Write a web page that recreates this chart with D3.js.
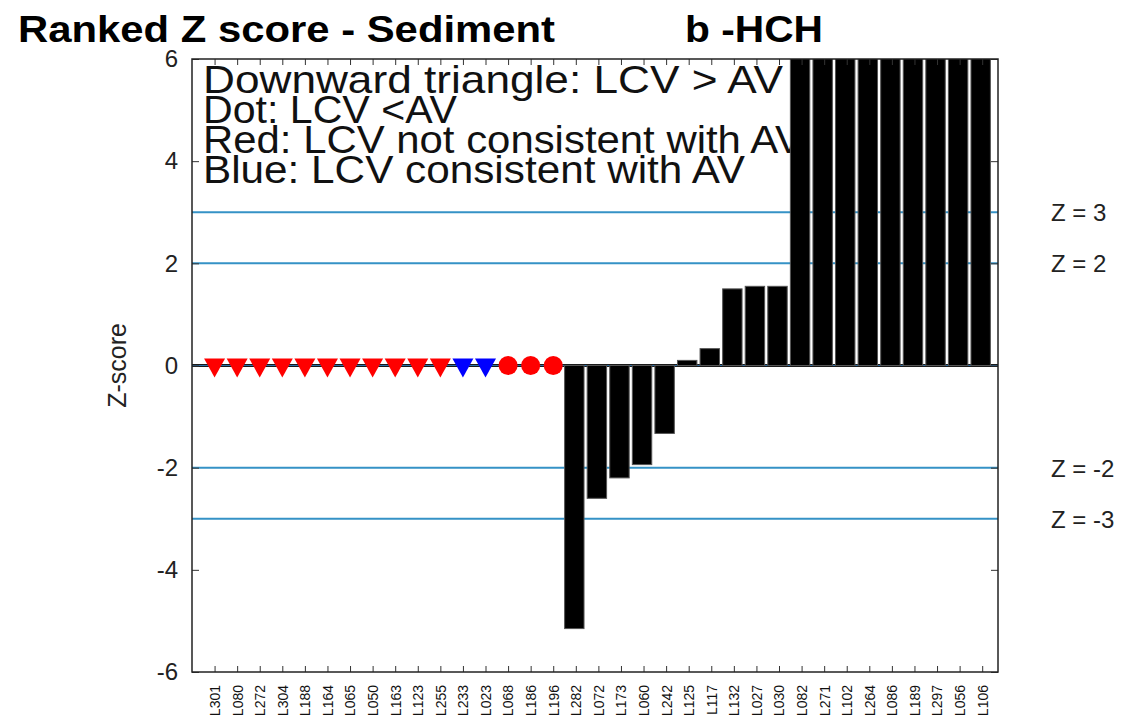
<!DOCTYPE html>
<html><head><meta charset="utf-8">
<script src="https://cdn.jsdelivr.net/npm/d3@7"></script>
<style>body{margin:0;background:#fff}svg{display:block;font-family:"Liberation Sans",Arial,sans-serif}</style>
</head><body><svg id="c" width="1146" height="728"></svg>
<script>
const labs = ["L301","L080","L272","L304","L188","L164","L065","L050","L163","L123","L255","L233","L023","L068","L186","L196","L282","L072","L173","L060","L242","L125","L117","L132","L027","L030","L082","L271","L102","L264","L086","L189","L297","L056","L106"];
// marker entries (no z-score): type and colour
const markerType = ["tri","tri","tri","tri","tri","tri","tri","tri","tri","tri","tri","tri","tri","dot","dot","dot"];
const markerCol  = ["red","red","red","red","red","red","red","red","red","red","red","blue","blue","red","red","red"];
// bar z-scores for remaining labs
const zscores = [-5.15,-2.6,-2.2,-1.94,-1.33,0.1,0.33,1.5,1.55,1.55,6.8,7.5,8.9,10.2,12.4,15.1,19.3,25.6,41.0];
const refLines = [3,2,-2,-3];
const refLabels = ["Z = 3","Z = 2","Z = -2","Z = -3"];
const yTicks = [-6,-4,-2,0,2,4,6];
const legendLines = ["Downward triangle: LCV > AV","Dot: LCV <AV","Red: LCV not consistent with AV","Blue: LCV consistent with AV"];

const svg = d3.select("#c");
const L=192, R=998, T=59, B=672;
const x = d3.scaleLinear().domain([0,35.7]).range([L,R]);
const y = d3.scaleLinear().domain([-6,6]).range([B,T]);

// title
svg.append("text").attr("x",18).attr("y",42).attr("font-size",37).attr("font-weight","bold").attr("textLength",537).attr("lengthAdjust","spacingAndGlyphs").text("Ranked Z score - Sediment");
svg.append("text").attr("x",685).attr("y",42).attr("font-size",37).attr("font-weight","bold").attr("textLength",138).attr("lengthAdjust","spacingAndGlyphs").text("b -HCH");

// plot bg
svg.append("rect").attr("x",L).attr("y",T).attr("width",R-L).attr("height",B-T).attr("fill","#fff");
svg.append("clipPath").attr("id","pc").append("rect").attr("x",L).attr("y",T).attr("width",R-L).attr("height",B-T);

// legend text
const lg = svg.append("g").attr("clip-path","url(#pc)");
const lgW=[580,254,600,542];
legendLines.forEach((t,i)=>{
  lg.append("text").attr("x",203).attr("y",93+i*30).attr("font-size",39).attr("fill","#111").attr("textLength",lgW[i]).attr("lengthAdjust","spacingAndGlyphs").text(t);
});

// ref lines
const g = svg.append("g").attr("clip-path","url(#pc)");
refLines.forEach(v=>{
  g.append("line").attr("x1",L).attr("x2",R).attr("y1",y(v)).attr("y2",y(v)).attr("stroke","#3592c6").attr("stroke-width",2);
});
g.append("line").attr("x1",L).attr("x2",R).attr("y1",y(0)).attr("y2",y(0)).attr("stroke","#1a1a1a").attr("stroke-width",3);
g.append("line").attr("x1",L).attr("x2",R).attr("y1",y(0)).attr("y2",y(0)).attr("stroke","#2a6fa8").attr("stroke-width",1.2);

// bars
const nM = markerType.length;
const bw = x(0.86)-x(0);
g.selectAll("rect.bar").data(zscores).enter().append("rect")
  .attr("x",(d,i)=>x(nM+i+1)-bw/2-1.5)
  .attr("width",bw)
  .attr("y",d=>y(Math.max(0,d)))
  .attr("height",d=>Math.abs(y(d)-y(0)))
  .attr("fill","#000").attr("stroke","#555").attr("stroke-width",1);

// markers
const colMap={red:"#ff0000",blue:"#0000ff"};
markerType.forEach((t,i)=>{
  const cx=x(i+1), cy=y(0);
  if(t==="tri"){
    g.append("path").attr("d",`M${cx-10.5},${cy-7}L${cx+10.5},${cy-7}L${cx},${cy+12}Z`).attr("fill",colMap[markerCol[i]]);
  } else {
    g.append("circle").attr("cx",cx).attr("cy",cy).attr("r",9.5).attr("fill",colMap[markerCol[i]]);
  }
});

// axes
const tickVals = d3.range(1,labs.length+1);
const xb = svg.append("g").attr("transform",`translate(0,${B})`).call(d3.axisBottom(x).tickValues(tickVals).tickSize(-6).tickFormat(i=>labs[i-1]));
xb.selectAll("text").attr("transform","rotate(-90)").attr("text-anchor","end").attr("x",-13).attr("y",0).attr("dy","0.35em").attr("font-size",14).attr("font-family","Liberation Sans, Arial, sans-serif").attr("fill","#111");
const xt = svg.append("g").attr("transform",`translate(0,${T})`).call(d3.axisTop(x).tickValues(tickVals).tickSize(-6).tickFormat(""));
const yl = svg.append("g").attr("transform",`translate(${L},0)`).call(d3.axisLeft(y).tickValues(yTicks).tickSize(-7).tickPadding(14).tickFormat(d=>String(d)));
yl.selectAll("text").attr("font-size",24).attr("font-family","Liberation Sans, Arial, sans-serif").attr("fill","#222");
const yr = svg.append("g").attr("transform",`translate(${R},0)`).call(d3.axisRight(y).tickValues(yTicks).tickSize(-7).tickFormat(""));
[xb,xt,yl,yr].forEach(a=>{a.select(".domain").remove(); a.selectAll("line").attr("stroke","#333");});
svg.append("rect").attr("x",L).attr("y",T).attr("width",R-L).attr("height",B-T).attr("fill","none").attr("stroke","#222").attr("stroke-width",1.5);

// y label
svg.append("text").attr("transform",`translate(126,${y(0)}) rotate(-90)`).attr("text-anchor","middle").attr("font-size",25).attr("fill","#222").text("Z-score");

// ref labels
refLines.forEach((v,i)=>{
  svg.append("text").attr("x",1051).attr("y",y(v)+9).attr("font-size",24).attr("fill","#222").text(refLabels[i]);
});
</script></body></html>
